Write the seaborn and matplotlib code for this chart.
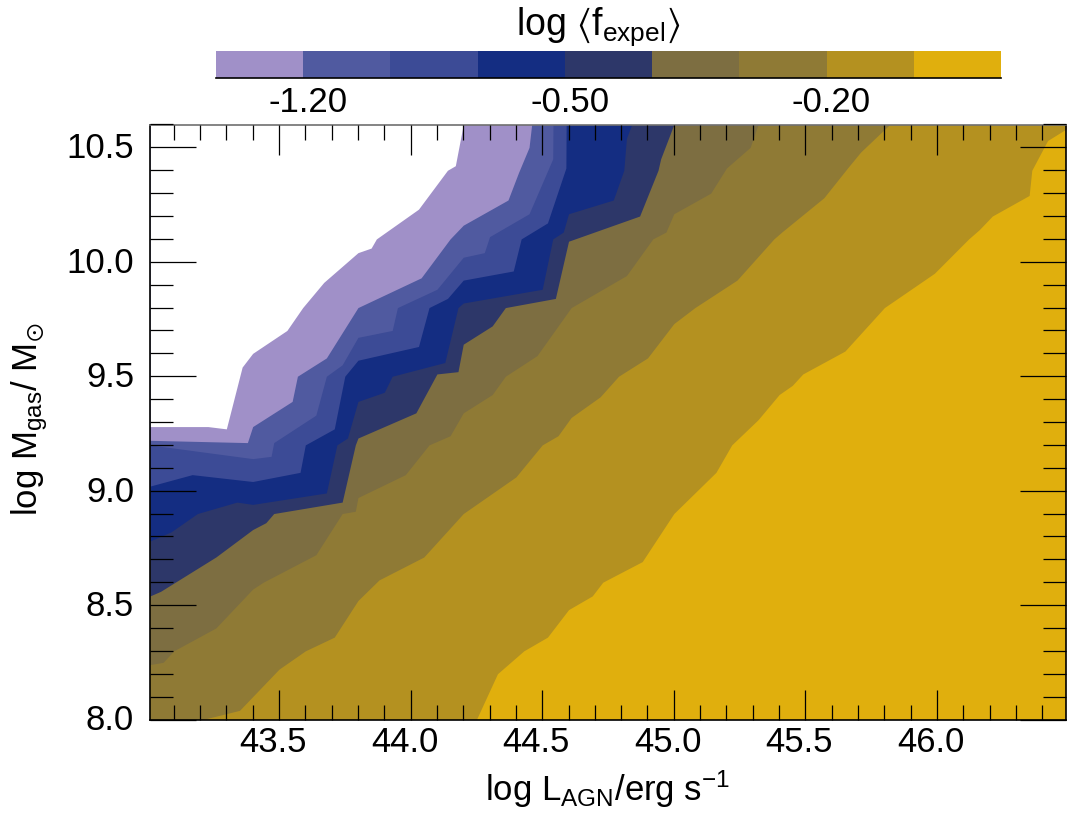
import numpy as np
import matplotlib
matplotlib.use("Agg")
import matplotlib.pyplot as plt
import matplotlib.transforms as mtrans
from matplotlib.ticker import MultipleLocator
import seaborn as sns

# colours of the nine bands, low to high
band_colors = ["#a090c8", "#505aa0", "#3c4b96", "#142d82", "#2d3769",
               "#7d6e41", "#8f7a35", "#b49120", "#e0af0d"]
cbar_ticks = [1, 4, 7]
cbar_labels = ["-1.20", "-0.50", "-0.20"]
x_major = [43.5, 44.0, 44.5, 45.0, 45.5, 46.0]
y_major = [8.0, 8.5, 9.0, 9.5, 10.0, 10.5]

# edge of each contour band (log L, log M)
edge_a_x = [43.01, 43.23, 43.30, 43.36, 43.40, 43.53, 43.59, 43.67, 43.80, 43.85, 43.87, 44.03, 44.14, 44.17, 44.20]
edge_a_y = [9.28, 9.28, 9.27, 9.54, 9.60, 9.70, 9.80, 9.91, 10.04, 10.06, 10.10, 10.23, 10.40, 10.42, 10.60]
edge_b_x = [43.01, 43.38, 43.40, 43.55, 43.57, 43.68, 43.80, 44.04, 44.15, 44.20, 44.37, 44.41, 44.45, 44.46]
edge_b_y = [9.22, 9.21, 9.28, 9.39, 9.50, 9.58, 9.80, 9.93, 10.10, 10.16, 10.27, 10.39, 10.50, 10.60]
edge_c_x = [43.01, 43.40, 43.47, 43.48, 43.64, 43.68, 43.74, 43.80, 43.93, 43.95, 44.10, 44.20, 44.28, 44.30, 44.45, 44.54, 44.541]
edge_c_y = [9.20, 9.14, 9.15, 9.21, 9.33, 9.50, 9.55, 9.67, 9.70, 9.80, 9.88, 10.02, 10.04, 10.11, 10.21, 10.45, 10.60]
edge_d_x = [43.01, 43.17, 43.40, 43.58, 43.60, 43.71, 43.75, 43.80, 44.03, 44.07, 44.14, 44.20, 44.39, 44.42, 44.52, 44.59, 44.591]
edge_d_y = [9.02, 9.07, 9.04, 9.08, 9.20, 9.27, 9.50, 9.57, 9.63, 9.80, 9.84, 9.92, 9.96, 10.10, 10.17, 10.41, 10.60]
edge_e_x = [43.01, 43.09, 43.19, 43.34, 43.40, 43.68, 43.72, 43.76, 43.80, 43.90, 43.93, 44.13, 44.18, 44.20, 44.50, 44.54, 44.58, 44.60, 44.77, 44.81, 44.82, 44.84]
edge_e_y = [8.78, 8.82, 8.90, 8.95, 8.94, 8.99, 9.20, 9.23, 9.39, 9.43, 9.50, 9.56, 9.80, 9.82, 9.88, 10.10, 10.13, 10.21, 10.27, 10.40, 10.54, 10.60]
edge_f_x = [43.01, 43.05, 43.26, 43.40, 43.45, 43.48, 43.74, 43.79, 43.80, 44.02, 44.10, 44.18, 44.20, 44.31, 44.36, 44.55, 44.60, 44.87, 44.94, 44.95, 45.00]
edge_f_y = [8.54, 8.56, 8.71, 8.83, 8.86, 8.90, 8.95, 9.20, 9.23, 9.34, 9.51, 9.52, 9.64, 9.72, 9.80, 9.84, 10.09, 10.20, 10.40, 10.45, 10.60]
edge_g_x = [43.01, 43.06, 43.10, 43.26, 43.40, 43.44, 43.64, 43.74, 43.79, 43.80, 43.98, 44.07, 44.15, 44.20, 44.31, 44.36, 44.48, 44.61, 44.82, 44.92, 44.97, 45.00, 45.14, 45.20, 45.29, 45.32]
edge_g_y = [8.24, 8.25, 8.30, 8.40, 8.57, 8.60, 8.72, 8.90, 8.91, 8.97, 9.07, 9.20, 9.24, 9.34, 9.42, 9.50, 9.59, 9.80, 9.94, 10.10, 10.13, 10.21, 10.30, 10.41, 10.50, 10.60]
edge_h_x = [43.01, 43.21, 43.35, 43.50, 43.60, 43.71, 43.80, 43.88, 44.05, 44.20, 44.40, 44.50, 44.56, 44.61, 44.72, 44.79, 44.90, 45.00, 45.08, 45.24, 45.38, 45.41, 45.57, 45.66, 45.71, 45.82]
edge_h_y = [8.00, 8.00, 8.04, 8.22, 8.30, 8.36, 8.52, 8.61, 8.71, 8.90, 9.06, 9.20, 9.24, 9.32, 9.41, 9.50, 9.58, 9.73, 9.80, 9.92, 10.10, 10.13, 10.28, 10.41, 10.48, 10.60]
edge_i_x = [43.01, 44.25, 44.33, 44.43, 44.52, 44.60, 44.69, 44.73, 44.88, 45.00, 45.16, 45.22, 45.32, 45.40, 45.45, 45.49, 45.65, 45.80, 45.99, 46.12, 46.16, 46.21, 46.35, 46.36, 46.42, 46.49]
edge_i_y = [8.00, 8.00, 8.20, 8.30, 8.36, 8.48, 8.54, 8.60, 8.69, 8.90, 9.08, 9.20, 9.31, 9.42, 9.46, 9.51, 9.61, 9.80, 9.95, 10.10, 10.14, 10.20, 10.29, 10.40, 10.53, 10.58]

W, H = 1072, 816
XMIN, XMAX = 43.01, 46.49
YMIN, YMAX = 8.0, 10.6

sns.set_theme(style="ticks")
plt.rcParams["font.family"] = ["Liberation Sans", "DejaVu Sans"]
plt.rcParams["mathtext.fontset"] = "dejavusans"
plt.rcParams["mathtext.default"] = "regular"
plt.rcParams["text.color"] = "black"
plt.rcParams["axes.labelcolor"] = "black"
plt.rcParams["xtick.labelcolor"] = "black"
plt.rcParams["ytick.labelcolor"] = "black"

palette = sns.color_palette(band_colors)

fig = plt.figure(figsize=(W / 100, H / 100), dpi=100, facecolor="white")
ax = fig.add_axes([150 / W, 1 - 719.5 / H, 916 / W, 595 / H])
ax.set_facecolor(palette[8])
ax.set_axisbelow(False)

# paint from the high end down, each fill covers everything above its edge
edges = [(edge_i_x, edge_i_y, palette[7]), (edge_h_x, edge_h_y, palette[6]),
         (edge_g_x, edge_g_y, palette[5]), (edge_f_x, edge_f_y, palette[4]),
         (edge_e_x, edge_e_y, palette[3]), (edge_d_x, edge_d_y, palette[2]),
         (edge_c_x, edge_c_y, palette[1]), (edge_b_x, edge_b_y, palette[0]),
         (edge_a_x, edge_a_y, "white")]
for ex, ey, col in edges:
    ax.fill_between(ex, ey, YMAX, color=col, linewidth=0, zorder=1)

ax.set_xlim(XMIN, XMAX)
ax.set_ylim(YMIN, YMAX)
ax.set_xticks(x_major)
ax.set_xticklabels([f"{v:.1f}" for v in x_major])
ax.set_yticks(y_major)
ax.set_yticklabels([f"{v:.1f}" for v in y_major])
ax.xaxis.set_minor_locator(MultipleLocator(0.1))
ax.yaxis.set_minor_locator(MultipleLocator(0.1))
ax.tick_params(axis="x", which="major", direction="in", top=True, bottom=True,
               length=21.6, width=0.9, color="black", labelsize=25, pad=4.5)
ax.tick_params(axis="x", which="minor", direction="in", top=True, bottom=True,
               length=10.8, width=0.9, color="black")
ax.tick_params(axis="y", which="major", direction="in", left=True, right=True,
               length=33, width=0.9, color="black", labelsize=25, pad=11.5)
ax.tick_params(axis="y", which="minor", direction="in", left=True, right=True,
               length=16.5, width=0.9, color="black")

# x labels sit a bit left of their ticks in the original
shift = mtrans.ScaledTranslation(-6 / 100, 0, fig.dpi_scale_trans)
for lab in ax.get_xticklabels():
    lab.set_transform(lab.get_transform() + shift)
shift_y = mtrans.ScaledTranslation(0, 2 / 100, fig.dpi_scale_trans)
for lab in ax.get_yticklabels():
    lab.set_transform(lab.get_transform() + shift_y)

for name, spine in ax.spines.items():
    spine.set_visible(True)
    spine.set_linewidth(1.2)
    spine.set_color("black")
ax.spines["top"].set_color("#707070")

ax.set_xlabel(r"log L$_{AGN}$/erg s$^{-1}$", fontsize=25, labelpad=7)
ax.set_ylabel(r"log M$_{gas}$/ M$_{\odot}$", fontsize=25, labelpad=12, y=0.505)

# colour strip on top
cax = fig.add_axes([216 / W, 1 - 77.5 / H, 785 / W, 26.5 / H])
strip = np.arange(len(band_colors)).reshape(1, -1)
sns.heatmap(strip, ax=cax, cmap=band_colors, cbar=False, xticklabels=False,
            yticklabels=False, linewidths=0)
cax.set_xticks(cbar_ticks)
cax.set_xticklabels(cbar_labels)
cax.tick_params(axis="x", length=0, labelsize=25, pad=6)
cax.tick_params(axis="y", length=0)
shift_c = mtrans.ScaledTranslation(5 / 100, 0, fig.dpi_scale_trans)
for lab in cax.get_xticklabels():
    lab.set_transform(lab.get_transform() + shift_c)
cax.spines["bottom"].set_visible(True)
cax.spines["bottom"].set_color("black")
cax.spines["bottom"].set_linewidth(1.2)

fig.text(598 / W, 1 - 27 / H, r"log $\langle$f$_{expel}\rangle$", fontsize=27,
         ha="center", va="center")

fig.savefig("out.png", dpi=100)
